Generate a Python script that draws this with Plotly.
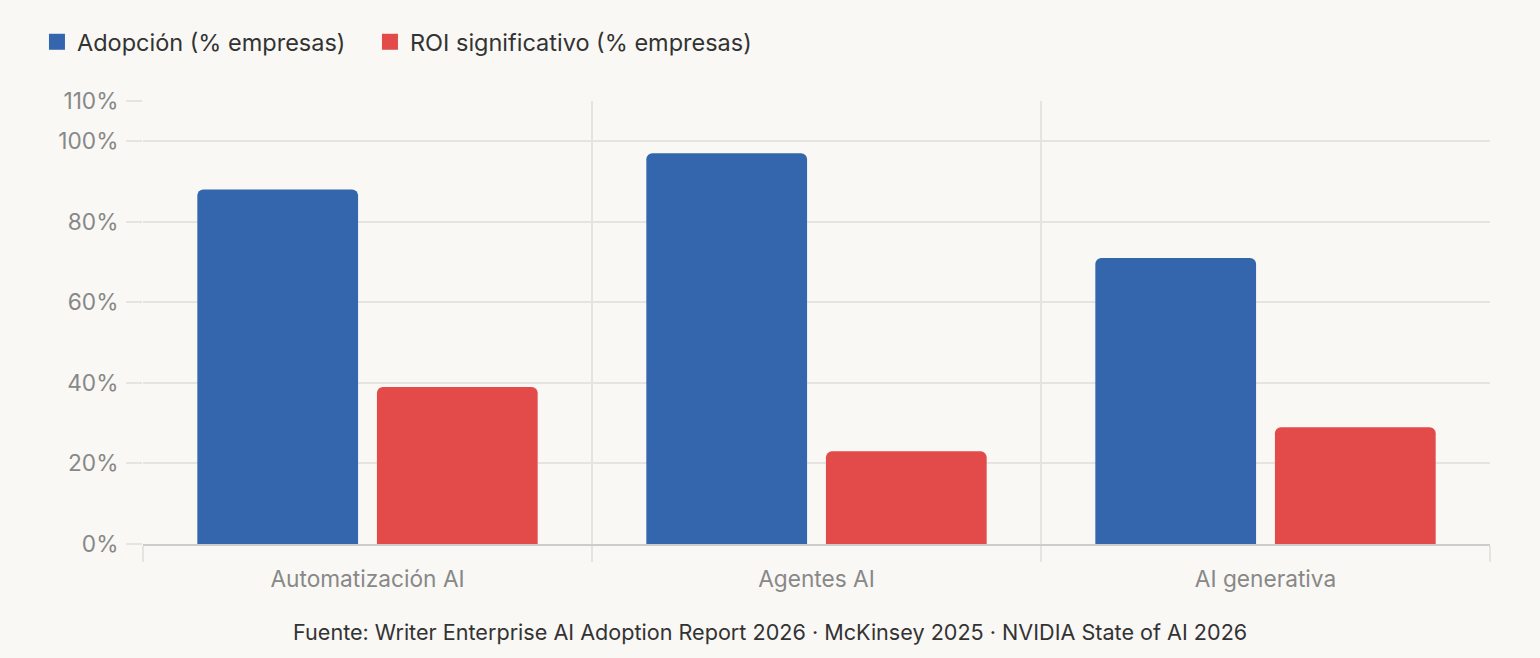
import plotly.graph_objects as go

categories = ["Automatización AI", "Agentes AI", "AI generativa"]
adopcion = [88, 97, 71]
roi = [39, 23, 29]
series_names = ["Adopción (% empresas)", "ROI significativo (% empresas)"]
series_colors = ["#3366ad", "#e34a4a"]
y_ticks = [0, 20, 40, 60, 80, 100, 110]
y_tick_labels = [f"{v}%" for v in y_ticks]
source_text = "Fuente: Writer Enterprise AI Adoption Report 2026 · McKinsey 2025 · NVIDIA State of AI 2026"

W, H = 1540, 658
ML, MR, MT, MB = 143, 50, 101, 114

fig = go.Figure()
for vals, name, col in zip([adopcion, roi], series_names, series_colors):
    fig.add_trace(go.Bar(x=categories, y=vals, name=name, showlegend=False,
                         marker=dict(color=col, line=dict(width=0))))
# legend entries with larger square swatches, one legend box each
legend_ids = ["legend", "legend2"]
for name, col, lid in zip(series_names, series_colors, legend_ids):
    fig.add_trace(go.Scatter(x=[None], y=[None], mode="markers", name=name,
                             marker=dict(symbol="square", size=18, color=col),
                             showlegend=True, legend=lid))

legend_style = dict(orientation="h", xref="container", yref="container",
                    y=1 - 42 / H, xanchor="left", yanchor="middle",
                    font=dict(size=23.5, color="#333333"),
                    itemsizing="trace", itemwidth=30,
                    bgcolor="rgba(0,0,0,0)")

fig.update_layout(
    width=W, height=H,
    margin=dict(l=ML, r=MR, t=MT, b=MB),
    paper_bgcolor="#f9f8f5", plot_bgcolor="#f9f8f5",
    font=dict(family="Inter, Roboto, sans-serif", color="#333333", size=20),
    barmode="group", bargap=0.2, bargroupgap=0.105,
    barcornerradius=6,
    legend=dict(x=0.024, **legend_style),
    legend2=dict(x=0.024 + (383 - 50) / W, **legend_style),
    xaxis=dict(type="category", tickson="boundaries", showgrid=True,
               gridcolor="#e6e4e0", gridwidth=1.5,
               ticks="outside", ticklen=16, tickcolor="#e6e4e0", tickwidth=1.5,
               showline=True, linecolor="#cccccc", linewidth=2,
               ticklabelstandoff=14,
               tickfont=dict(size=22.7, color="#888888")),
    yaxis=dict(range=[0, 110], tickvals=y_ticks, ticktext=y_tick_labels,
               showgrid=True, gridcolor="#e6e4e0", gridwidth=1.5,
               ticks="outside", ticklen=16, tickcolor="#e6e4e0", tickwidth=1.5,
               zeroline=False, showline=False, ticklabelstandoff=3,
               tickfont=dict(size=22.7, color="#888888")),
    annotations=[dict(text=source_text, xref="paper", yref="paper",
                      x=(770 - ML) / (W - ML - MR), y=-(632 - (H - MB)) / (H - MT - MB),
                      xanchor="center", yanchor="middle", showarrow=False,
                      font=dict(size=21.6, color="#333333"))],
)

fig.write_html("out.html", config={"displayModeBar": False},
               post_script="document.body.style.margin='0';document.body.style.background='#f9f8f5';")
